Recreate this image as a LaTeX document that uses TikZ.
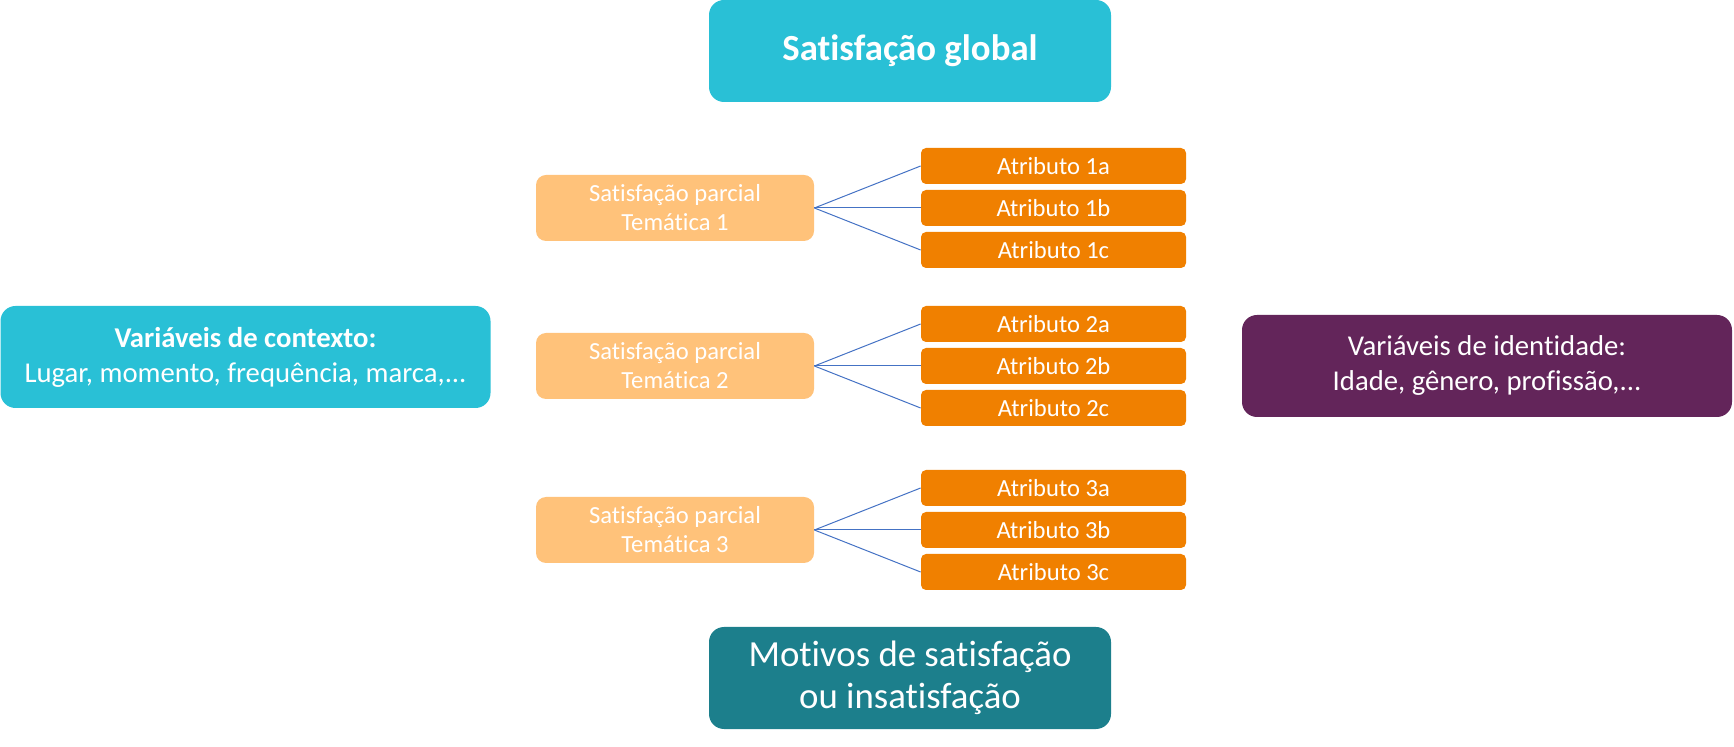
\documentclass[tikz,border=0pt]{standalone}
\usepackage{fontspec}
\setmainfont{Carlito}[Ligatures={NoCommon}]
\usepackage{tikz}
\usetikzlibrary{positioning}
\definecolor{cyanbox}{HTML}{29C0D6}
\definecolor{tealbox}{HTML}{1C7F8C}
\definecolor{plum}{HTML}{63255A}
\definecolor{peach}{HTML}{FFC27A}
\definecolor{tangerine}{HTML}{F08000}
\definecolor{linkblue}{HTML}{4472C4}

\begin{document}
\begin{tikzpicture}[
    x=0.5pt, y=-0.5pt,
    box/.style={rounded corners=7.5pt, text=white, align=center, inner sep=0pt},
    big/.style={box, minimum width=201pt, minimum height=51pt,
                font=\fontsize{18.4}{21.3}\selectfont},
    side/.style={box, minimum width=245pt, minimum height=51pt,
                 font=\fontsize{14.35}{17.5}\selectfont},
    part/.style={box, rounded corners=5pt, fill=peach, minimum width=139pt, minimum height=33pt,
                 font=\fontsize{12.3}{14.5}\selectfont},
    attr/.style={box, rounded corners=2.5pt, fill=tangerine, minimum width=132.5pt, minimum height=18pt,
                 font=\fontsize{12.3}{14.5}\selectfont},
    link/.style={draw=linkblue, line width=0.5pt}
]
  \useasboundingbox (0,0) rectangle (1734,747);

  \node[big, fill=cyanbox, font=\fontsize{18.4}{21.3}\selectfont\bfseries] (global) at (910,51) {Satisfação global};
  \node[side, fill=cyanbox] (context) at (245.5,357) {\textbf{Variáveis de contexto:}\\Lugar, momento, frequência, marca,...};
  \node[side, fill=plum] (identity) at (1487,366) {Variáveis de identidade:\\Idade, gênero, profissão,...};
  \node[big, fill=tealbox] (reasons) at (910,678) {Motivos de satisfação\\ou insatisfação};

  % one theme per row, three attributes each
  \foreach \t/\y in {1/208, 2/366, 3/530} {
    \node[part] (part\t) at (675,\y) {Satisfação parcial\\Temática \t};
    \foreach \s/\dy in {a/-1, b/0, c/1} {
      \node[attr] (attr\t\s) at (1053.5,\y+42*\dy) {Atributo \t\s};
      \draw[link] (part\t.east) -- (attr\t\s.west);
    }
  }
\end{tikzpicture}
\end{document}
